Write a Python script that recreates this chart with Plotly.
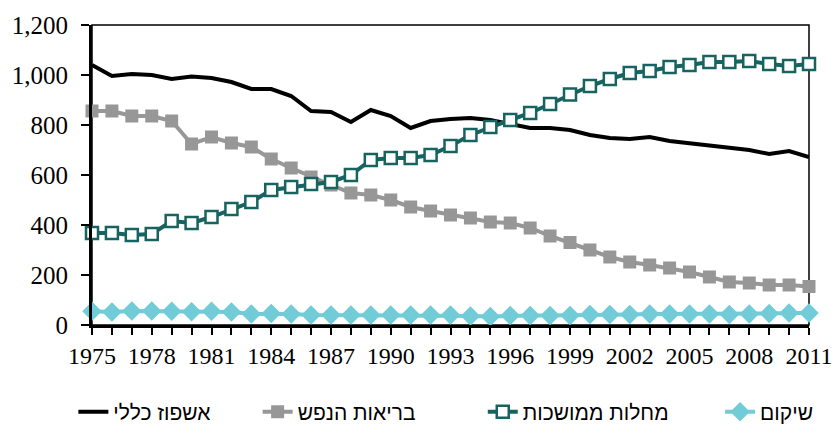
import plotly.graph_objects as go

years = list(range(1975, 2012))

general = [1040, 996, 1004, 1000, 984, 994, 988, 972, 944, 944, 916, 856, 852, 812, 860,
           836, 788, 816, 824, 828, 820, 804, 788, 788, 780, 760, 748, 744, 752, 736,
           728, 716, 708, 700, 684, 696, 672]
mental = [856, 856, 836, 836, 816, 724, 752, 728, 712, 664, 628, 592, 560, 528, 520,
          500, 472, 456, 440, 428, 412, 408, 388, 356, 330, 300, 272, 252, 240, 228,
          212, 192, 172, 168, 160, 160, 154]
chronic = [368, 368, 360, 364, 416, 408, 432, 464, 492, 540, 552, 564, 572, 600, 660,
           668, 668, 680, 716, 760, 792, 820, 848, 884, 922, 956, 984, 1008, 1016, 1032,
           1040, 1052, 1052, 1056, 1044, 1036, 1044]
rehab = [55, 52, 56, 56, 55, 53, 55, 52, 44, 46, 44, 40, 40, 40, 40,
         40, 40, 40, 40, 36, 34, 38, 38, 38, 38, 42, 42, 42, 44, 44,
         44, 44, 42, 44, 46, 48, 48]

names = ["אשפוז כללי", "בריאות הנפש", "מחלות ממושכות", "שיקום"]

fig = go.Figure()
fig.add_trace(go.Scatter(x=years, y=general, name=names[0], mode="lines", legend="legend",
                         line=dict(color="#000000", width=4)))
fig.add_trace(go.Scatter(x=years, y=mental, name=names[1], mode="lines+markers", legend="legend2",
                         line=dict(color="#979797", width=4),
                         marker=dict(symbol="square", size=13, color="#979797")))
fig.add_trace(go.Scatter(x=years, y=chronic, name=names[2], mode="lines+markers", legend="legend3",
                         line=dict(color="#16635f", width=4),
                         marker=dict(symbol="square", size=12, color="white",
                                     line=dict(color="#16635f", width=2.5))))
fig.add_trace(go.Scatter(x=years, y=rehab, name=names[3], mode="lines+markers", legend="legend4",
                         line=dict(color="#71ccd8", width=4),
                         marker=dict(symbol="diamond", size=15, color="#71ccd8")))
fig.update_traces(cliponaxis=False)

# one legend box per entry so the entries can be spread like the original
leg = dict(orientation="h", y=-0.29, yanchor="middle", xanchor="left",
           font=dict(family="Liberation Sans", size=21, color="black"),
           bgcolor="rgba(0,0,0,0)")

fig.update_layout(
    width=834, height=434,
    margin=dict(l=92, r=25, t=25, b=109, autoexpand=False),
    plot_bgcolor="white", paper_bgcolor="white",
    font=dict(family="Liberation Serif", size=25, color="black"),
    showlegend=True,
    legend=dict(leg, x=-0.026),
    legend2=dict(leg, x=0.231),
    legend3=dict(leg, x=0.545),
    legend4=dict(leg, x=0.876),
    xaxis=dict(range=[1975, 2011], tick0=1975, dtick=3, showgrid=False, zeroline=False,
               showline=True, linecolor="black", linewidth=3, automargin=False,
               ticks="outside", ticklen=7, tickwidth=2, tickcolor="black",
               tickfont=dict(size=24),
               minor=dict(dtick=1, ticks="outside", ticklen=7, tickwidth=2, tickcolor="black")),
    yaxis=dict(range=[0, 1200], dtick=200, tickformat=",d", showgrid=False, zeroline=False,
               showline=True, linecolor="black", linewidth=3, automargin=False,
               ticks="outside", ticklen=8, tickwidth=2, tickcolor="black",
               ticklabelstandoff=8),
    shapes=[dict(type="rect", xref="paper", yref="paper", x0=0, x1=1, y0=0, y1=1,
                 line=dict(color="black", width=1.5), layer="below")],
)

# page body has a default 8px margin; drop it so the figure fills the window
fig.write_html("out.html", config={"displayModeBar": False},
               post_script="document.body.style.margin='0';document.body.style.overflow='hidden';")
